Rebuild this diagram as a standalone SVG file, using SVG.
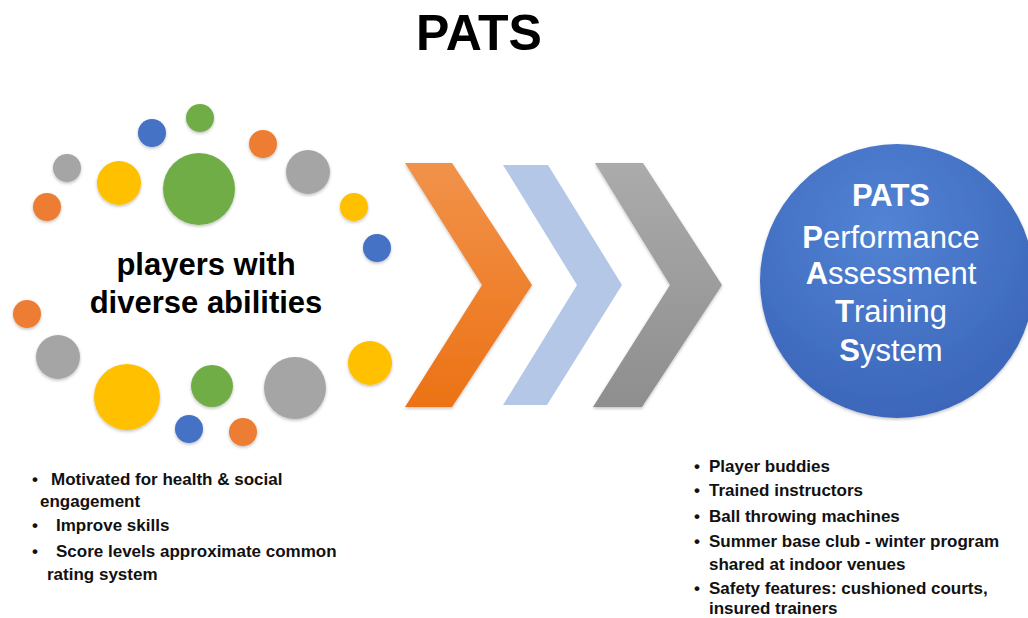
<svg xmlns="http://www.w3.org/2000/svg" width="1028" height="618" viewBox="0 0 1028 618">
<defs>
<style>
.t{font-family:"Liberation Sans",Arial,sans-serif;font-weight:bold;fill:#000}
.b{font-family:"Liberation Sans",Arial,sans-serif;font-weight:bold;font-size:17px;fill:#111}
.w{font-family:"Liberation Sans",Arial,sans-serif;fill:#fff;font-size:31px;text-anchor:middle}
.o{fill:#ED7D31}.g{fill:#A5A5A5}.y{fill:#FFC000}.gr{fill:#70AD47}.bl{fill:#4472C4}
.dots circle{filter:url(#sh)}
</style>
<filter id="sh" x="-30%" y="-30%" width="160%" height="160%">
<feDropShadow dx="0" dy="1.5" stdDeviation="1.5" flood-color="#000" flood-opacity="0.25"/>
</filter>
<linearGradient id="og" x1="0" y1="0" x2="0" y2="1"><stop offset="0" stop-color="#F1924A"/><stop offset="1" stop-color="#EC7215"/></linearGradient>
<linearGradient id="gg" x1="0" y1="0" x2="0" y2="1"><stop offset="0" stop-color="#ABABAB"/><stop offset="1" stop-color="#8E8E8E"/></linearGradient>
<radialGradient id="bg" cx="0.45" cy="0.3" r="0.75"><stop offset="0" stop-color="#5283D4"/><stop offset="1" stop-color="#3A64B8"/></radialGradient>
</defs>
<rect width="1028" height="618" fill="#fff"/>
<text class="t" x="479" y="50" font-size="50" text-anchor="middle">PATS</text>

<g id="players">
<g class="dots">
<circle class="gr" cx="200" cy="118" r="14"/>
<circle class="bl" cx="152" cy="133" r="14"/>
<circle class="o" cx="263" cy="144" r="14"/>
<circle class="g" cx="67" cy="168" r="14"/>
<circle class="y" cx="119" cy="183" r="22"/>
<circle class="gr" cx="199" cy="189" r="36"/>
<circle class="g" cx="308" cy="172" r="22"/>
<circle class="o" cx="47" cy="207" r="14"/>
<circle class="y" cx="354" cy="207" r="14"/>
<circle class="bl" cx="377" cy="248" r="14"/>
<circle class="o" cx="27" cy="314" r="14"/>
<circle class="g" cx="58" cy="357" r="22"/>
<circle class="y" cx="127" cy="397" r="33"/>
<circle class="gr" cx="212" cy="386" r="21"/>
<circle class="g" cx="295" cy="388" r="31"/>
<circle class="y" cx="370" cy="363" r="22"/>
<circle class="bl" cx="189" cy="429" r="14"/>
<circle class="o" cx="243" cy="432" r="14"/>
</g>
<text class="t" x="206" y="275" font-size="31" text-anchor="middle">players with</text>
<text class="t" x="206" y="313" font-size="31" text-anchor="middle">diverse abilities</text>
</g>

<g id="connectors">
<polygon points="405,163 452,163 532,285 452,407 405,407 482,285" fill="url(#og)" filter="url(#sh)"/>
<polygon points="503,165 548,165 622,285 547,405 503,405 577,285" fill="#B4C7E7"/>
<polygon points="595,163 643,163 722,285 642,407 593,407 670,285" fill="url(#gg)" filter="url(#sh)"/>
</g>

<g id="pats">
<circle cx="897" cy="281" r="137" fill="url(#bg)" filter="url(#sh)"/>
<text class="w" x="891" y="206" font-weight="bold" font-size="33">PATS</text>
<text class="w" x="891" y="248"><tspan font-weight="bold">P</tspan>erformance</text>
<text class="w" x="891" y="284"><tspan font-weight="bold">A</tspan>ssessment</text>
<text class="w" x="891" y="322"><tspan font-weight="bold">T</tspan>raining</text>
<text class="w" x="891" y="361"><tspan font-weight="bold">S</tspan>ystem</text>
</g>

<g id="player-notes">
<text class="b" y="485"><tspan x="32">•</tspan><tspan x="51">Motivated for health &amp; social</tspan></text>
<text class="b" x="40" y="507">engagement</text>
<text class="b" y="531"><tspan x="32">•</tspan><tspan x="56">Improve skills</tspan></text>
<text class="b" y="557"><tspan x="32">•</tspan><tspan x="56">Score levels approximate common</tspan></text>
<text class="b" x="47" y="580">rating system</text>
</g>

<g id="pats-notes">
<text class="b" y="472"><tspan x="694">•</tspan><tspan x="709">Player buddies</tspan></text>
<text class="b" y="496"><tspan x="694">•</tspan><tspan x="709">Trained instructors</tspan></text>
<text class="b" y="522"><tspan x="694">•</tspan><tspan x="709">Ball throwing machines</tspan></text>
<text class="b" y="547"><tspan x="694">•</tspan><tspan x="709">Summer base club - winter program</tspan></text>
<text class="b" x="709" y="570">shared at indoor venues</text>
<text class="b" y="594"><tspan x="694">•</tspan><tspan x="709">Safety features: cushioned courts,</tspan></text>
<text class="b" x="709" y="614">insured trainers</text>
</g>
</svg>
